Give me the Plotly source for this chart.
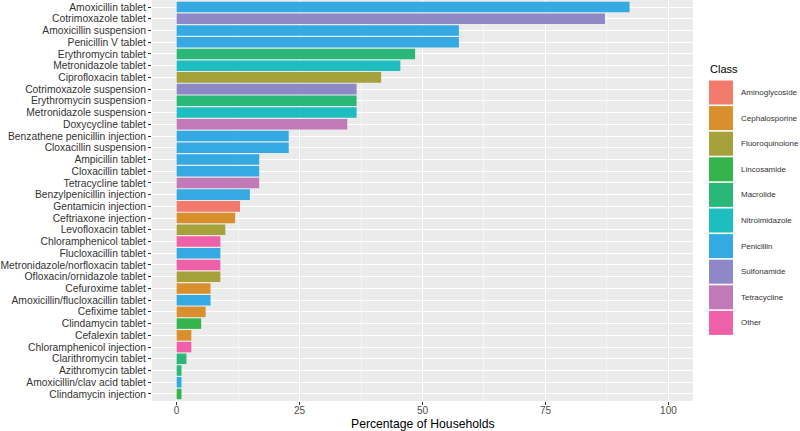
import plotly.graph_objects as go

# ---- data (top to bottom as in the chart) ----
drugs = [
    "Amoxicillin tablet", "Cotrimoxazole tablet", "Amoxicillin suspension", "Penicillin V tablet",
    "Erythromycin tablet", "Metronidazole tablet", "Ciprofloxacin tablet", "Cotrimoxazole suspension",
    "Erythromycin suspension", "Metronidazole suspension", "Doxycycline tablet",
    "Benzathene penicillin injection", "Cloxacillin suspension", "Ampicillin tablet",
    "Cloxacillin tablet", "Tetracycline tablet", "Benzylpenicillin injection", "Gentamicin injection",
    "Ceftriaxone injection", "Levofloxacin tablet", "Chloramphenicol tablet", "Flucloxacillin tablet",
    "Metronidazole/norfloxacin tablet", "Ofloxacin/ornidazole tablet", "Cefuroxime tablet",
    "Amoxicillin/flucloxacillin tablet", "Cefixime tablet", "Clindamycin tablet", "Cefalexin tablet",
    "Chloramphenicol injection", "Clarithromycin tablet", "Azithromycin tablet",
    "Amoxicillin/clav acid tablet", "Clindamycin injection",
]
drug_class = [
    "Penicillin", "Sulfonamide", "Penicillin", "Penicillin",
    "Macrolide", "Nitroimidazole", "Fluoroquinolone", "Sulfonamide",
    "Macrolide", "Nitroimidazole", "Tetracycline",
    "Penicillin", "Penicillin", "Penicillin",
    "Penicillin", "Tetracycline", "Penicillin", "Aminoglycoside",
    "Cephalosporine", "Fluoroquinolone", "Other", "Penicillin",
    "Other", "Fluoroquinolone", "Cephalosporine",
    "Penicillin", "Cephalosporine", "Lincosamide", "Cephalosporine",
    "Other", "Macrolide", "Macrolide",
    "Penicillin", "Lincosamide",
]
pct = [
    92.1, 87.1, 57.4, 57.4,
    48.5, 45.5, 41.6, 36.6,
    36.6, 36.6, 34.7,
    22.8, 22.8, 16.8,
    16.8, 16.8, 14.9, 12.9,
    11.9, 9.9, 8.9, 8.9,
    8.9, 8.9, 6.9,
    6.9, 5.9, 5.0, 3.0,
    3.0, 2.0, 1.0,
    1.0, 1.0,
]
classes = ["Aminoglycoside", "Cephalosporine", "Fluoroquinolone", "Lincosamide", "Macrolide",
           "Nitroimidazole", "Penicillin", "Sulfonamide", "Tetracycline", "Other"]
class_colors = ["#F17A6D", "#D98F2C", "#A5A23B", "#35B44E", "#2BB778",
                "#1EBDC0", "#35A9E2", "#8F88C7", "#C279B8", "#EE60A8"]
x_ticks = [0, 25, 50, 75, 100]

FONT = "Liberation Sans, Arial, Helvetica, sans-serif"
W, H = 800, 431
PL, PR, PT, PB = 152, 693, 0, 401  # panel pixel box

fig = go.Figure()
for cls, col in zip(classes, class_colors):
    ys = [d for d, c in zip(drugs, drug_class) if c == cls]
    xs = [v for v, c in zip(pct, drug_class) if c == cls]
    fig.add_trace(go.Bar(x=xs, y=ys, orientation="h", marker=dict(color=col, line=dict(width=0)),
                         width=0.9, name=cls, showlegend=False))

# manual ggplot-like legend
def px_x(px):
    return (px - PL) / (PR - PL)

def px_y(py):
    return (PB - py) / (PB - PT)

key_left, key_right, key_top0, key_pitch, key_h = 709, 733, 80.5, 25.6, 24
shapes = []
annotations = []
for i, (cls, col) in enumerate(zip(classes, class_colors)):
    top = key_top0 + i * key_pitch
    shapes.append(dict(type="rect", xref="paper", yref="paper",
                       x0=px_x(key_left), x1=px_x(key_right),
                       y0=px_y(top + key_h), y1=px_y(top),
                       fillcolor=col, line=dict(width=0), layer="above"))
    annotations.append(dict(xref="paper", yref="paper", x=px_x(739), y=px_y(top + key_h / 2),
                            text=cls, showarrow=False, xanchor="left", yanchor="middle",
                            font=dict(family=FONT, size=8, color="#333333")))
annotations.append(dict(xref="paper", yref="paper", x=px_x(708), y=px_y(69),
                        text="Class", showarrow=False, xanchor="left", yanchor="middle",
                        font=dict(family=FONT, size=11, color="#000000")))
annotations.append(dict(xref="paper", yref="paper", x=0.5, y=px_y(424),
                        text="Percentage of Households", showarrow=False,
                        xanchor="center", yanchor="middle",
                        font=dict(family=FONT, size=12.2, color="#000000")))

fig.update_layout(
    width=W, height=H,
    margin=dict(l=PL, r=W - PR, t=PT, b=H - PB, pad=0),
    paper_bgcolor="white", plot_bgcolor="#EBEBEB",
    barmode="overlay", bargap=0.1,
    showlegend=False,
    shapes=shapes, annotations=annotations,
    font=dict(family=FONT, color="#333333"),
)
fig.update_xaxes(range=[-5, 105], tickmode="array", tickvals=x_ticks,
                 ticktext=[str(t) for t in x_ticks],
                 showgrid=True, gridcolor="white", gridwidth=1.1,
                 minor=dict(tickmode="array", tickvals=[12.5, 37.5, 62.5, 87.5], showgrid=True,
                            gridcolor="#F5F5F5", gridwidth=0.6, ticks=""),
                 zeroline=False, ticks="outside", ticklen=3, tickcolor="#333333", tickwidth=1,
                 ticklabelstandoff=-3,
                 tickfont=dict(family=FONT, size=10, color="#4D4D4D"), showline=False,
                 automargin=False)
fig.update_yaxes(type="category", categoryorder="array", categoryarray=drugs[::-1],
                 tickmode="array", tickvals=drugs, ticktext=drugs,
                 range=[-0.6, len(drugs) - 0.4],
                 showgrid=True, gridcolor="white", gridwidth=1.1, zeroline=False,
                 ticks="outside", ticklen=3, tickcolor="#333333", tickwidth=1,
                 tickfont=dict(family=FONT, size=10.3, color="#333333"), showline=False,
                 automargin=False)

fig.write_html("out.html", config={"displayModeBar": False},
               post_script="document.body.style.margin='0px';")
